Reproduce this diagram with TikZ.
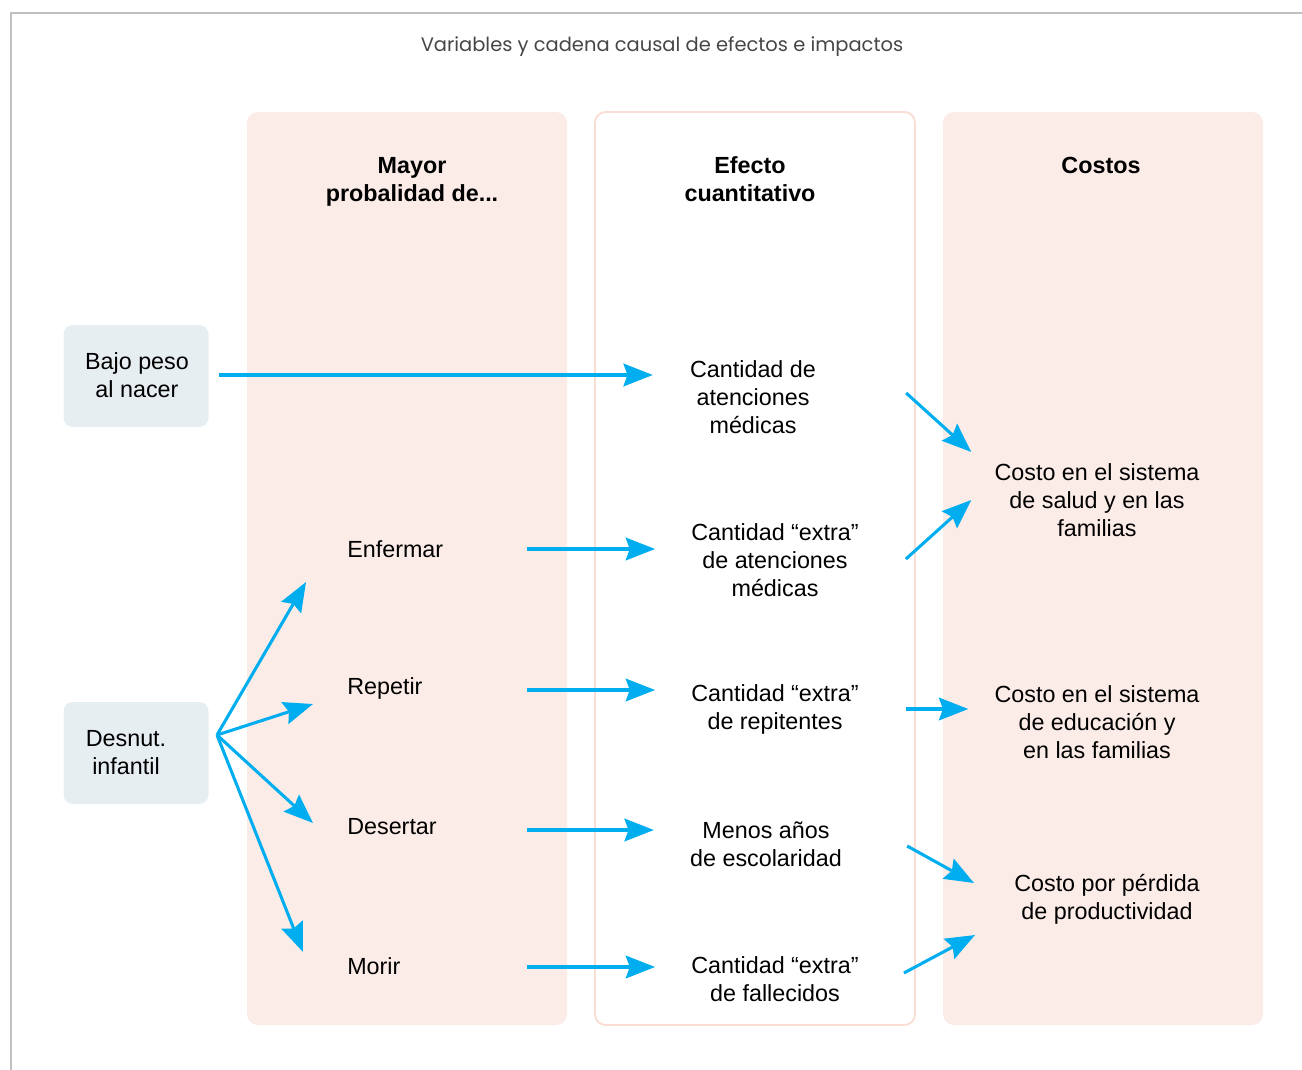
\documentclass[tikz,border=0pt]{standalone}
\usepackage{fontspec}
\setmainfont{Liberation Sans}
\newfontfamily\titlefont{Poppins}
\usetikzlibrary{arrows.meta,calc}
\definecolor{cyanarrow}{RGB}{0,174,239}
\definecolor{litepink}{RGB}{252,236,232}
\definecolor{pinkline}{RGB}{250,222,212}
\definecolor{boxgray}{RGB}{231,238,242}
\definecolor{framegray}{RGB}{192,192,192}
\definecolor{titlegray}{RGB}{70,70,70}

\tikzset{
  colfill/.style={fill=litepink, draw=none, rounded corners=8pt},
  colline/.style={fill=white, draw=pinkline, line width=1.4pt, rounded corners=8pt},
  gbox/.style={fill=boxgray, draw=none, rounded corners=7pt, minimum width=108.75pt, minimum height=76.5pt},
  txt/.style={align=center, inner sep=0pt, font=\fontsize{17.5}{21}\selectfont},
  lefttxt/.style={anchor=west, inner sep=0pt, font=\fontsize{17.5}{21}\selectfont},
  head/.style={align=center, inner sep=0pt, font=\fontsize{17.5}{21}\selectfont\bfseries},
  arr/.style={draw=cyanarrow, line width=2.3pt, -{Stealth[length=22pt,width=17pt,inset=3pt]}}
}

\begin{document}
\begin{tikzpicture}[line cap=butt,line join=miter,x=0.75pt,y=-0.75pt]
	\useasboundingbox (0,0) rectangle (1302,1070);
	% frame
	\draw [framegray, line width=1.4pt] (11,1070) -- (11,13) -- (1302,13);
	\node [font=\titlefont\fontsize{14.6}{18}\selectfont, text=titlegray] (titulo) at (662,47) {Variables y cadena causal de efectos e impactos};
	% columns
	\fill [colfill] (247,112) rectangle (567,1025);
	\draw [colline] (595,112) rectangle (915,1025);
	\fill [colfill] (943,112) rectangle (1263,1025);
	\node [head] (mayor) at (412,182) {Mayor\\probalidad de...};
	\node [head] (efecto) at (750,179) {Efecto\\cuantitativo};
	\node [head] (costos) at (1101,165) {Costos};

	% causes
	\node [gbox] (bajo) at (136,376) {};
	\node [txt] (bajotxt) at (137,375) {Bajo peso\\al nacer};
	\node [gbox] (desnut) at (136,753) {};
	\node [txt] (desnuttxt) at (126,753) {Desnut.\\infantil};

	% mayor probabilidad de
	\node [lefttxt] (enfermar) at (347,549) {Enfermar};
	\node [lefttxt] (repetir) at (347,688) {Repetir};
	\node [lefttxt] (desertar) at (347,827) {Desertar};
	\node [lefttxt] (morir) at (347,966) {Morir};

	% efecto cuantitativo
	\node [txt] (atenc) at (753,397) {Cantidad de\\atenciones\\médicas};
	\node [txt] (atencx) at (775,560) {Cantidad “extra”\\de atenciones\\médicas};
	\node [txt] (repit) at (775,709) {Cantidad “extra”\\de repitentes};
	\node [txt] (escol) at (766,844) {Menos años\\de escolaridad};
	\node [txt] (fallec) at (775,979) {Cantidad “extra”\\de fallecidos};

	% costos
	\node [txt] (salud) at (1097,500) {Costo en el sistema\\de salud y en las\\familias};
	\node [txt] (educ) at (1097,722) {Costo en el sistema\\de educación y\\en las familias};
	\node [txt] (product) at (1107,899) {Costo por pérdida\\de productividad};

	% arrows
	\draw [arr] ($(bajo.east)+(10,-1)$) -- ($(atenc.west)+(-37,-22)$);
	\coordinate (fan) at (217,735);
	\draw [arr] (fan) -- ($(enfermar.west)+(-41,33)$);
	\draw [arr] (fan) -- ($(repetir.west)+(-34,16)$);
	\draw [arr] (fan) -- ($(desertar.west)+(-34,-4)$);
	\draw [arr] (fan) -- ($(morir.west)+(-44,-14)$);

	\draw [arr] ($(enfermar.west)+(180,0)$) -- ($(atencx.west)+(-36,-11)$);
	\draw [arr] ($(repetir.west)+(180,2)$) -- ($(repit.west)+(-36,-19)$);
	\draw [arr] ($(desertar.west)+(180,3)$) -- ($(escol.west)+(-36,-14)$);
	\draw [arr] ($(morir.west)+(180,1)$) -- ($(fallec.west)+(-36,-12)$);

	\draw [arr] ($(atenc.east)+(90,-4)$) -- ($(salud.west)+(-23,-48)$);
	\draw [arr] ($(atencx.east)+(47,-1)$) -- ($(salud.west)+(-23,0)$);
	\draw [arr] ($(repit.east)+(47,0)$) -- ($(educ.west)+(-26,-13)$);
	\draw [arr] ($(escol.east)+(65,2)$) -- ($(product.west)+(-40,-16)$);
	\draw [arr] ($(fallec.east)+(45,-6)$) -- ($(product.west)+(-39,36)$);
\end{tikzpicture}
\end{document}
